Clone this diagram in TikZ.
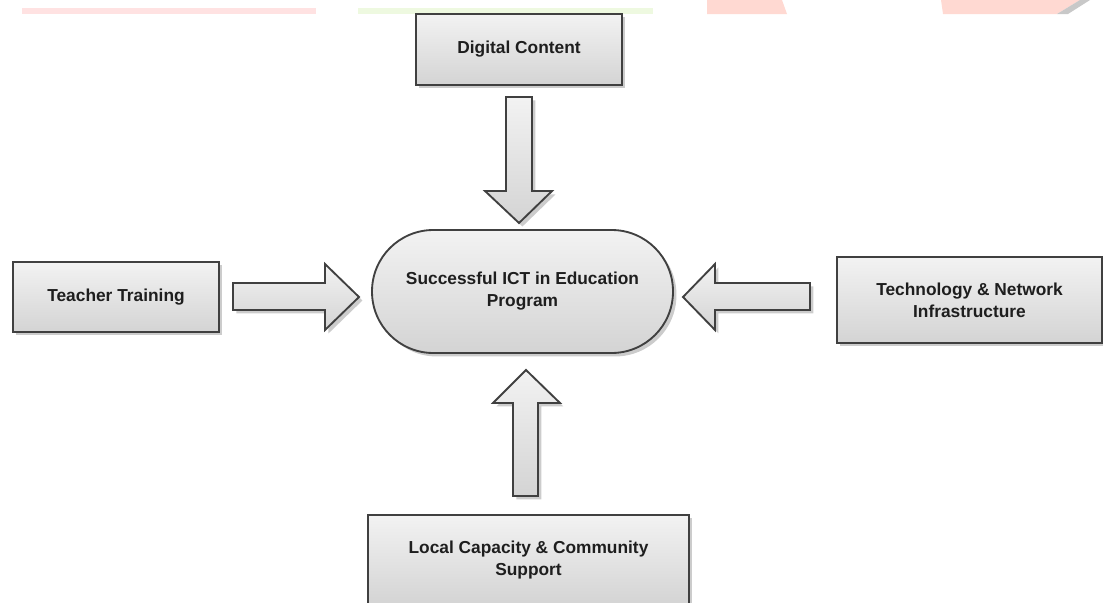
\documentclass[tikz,border=0pt]{standalone}
\usepackage{fontspec}
\setmainfont{Liberation Sans}
\usetikzlibrary{shadows}
\definecolor{wmred}{HTML}{FFE2E2}
\definecolor{wmgreen}{HTML}{EEF9E0}
\definecolor{wmsalmon}{HTML}{FFD9D2}
\definecolor{wmgray}{HTML}{C8C8C8}
\definecolor{edge}{HTML}{404040}
\definecolor{ink}{HTML}{1E1E1E}
\tikzset{
  shade box/.style={draw=edge, line width=1.4pt, top color=white!95!black, bottom color=black!17,
    drop shadow={shadow xshift=2.6pt, shadow yshift=-2.6pt, fill=black, opacity=0.2}},
  box/.style={shade box, rectangle, inner sep=0pt, align=center, text=ink,
    font=\bfseries\fontsize{13}{16.5}\selectfont},
  blockarrow/.style={shade box, line join=miter},
}
\begin{document}
\begin{tikzpicture}[x=0.75pt,y=-0.75pt]
\useasboundingbox (0,0) rectangle (1103,603);
\clip (0,0) rectangle (1103,603);
% faint remnants at the top
\fill[wmred] (22,8) rectangle (316,14);
\fill[wmgreen] (358,8) rectangle (653,14);
\fill[wmsalmon] (707,0) -- (782,0) -- (787,14) -- (707,14) -- cycle;
\fill[wmsalmon] (941,0) -- (1080,0) -- (1057,14) -- (943,14) -- cycle;
\fill[wmgray] (1080,0) -- (1090,0) -- (1068,14) -- (1057,14) -- cycle;
% boxes
\node[box, minimum width=154.5pt, minimum height=53.25pt] (digital) at (519,49.5) {Digital Content};
\node[box, minimum width=154.5pt, minimum height=52.5pt] (teacher) at (116,297) {Teacher Training};
\node[box, minimum width=198.75pt, minimum height=64.5pt] (tech) at (969.5,300) {Technology \& Network\\Infrastructure};
\node[box, minimum width=240.75pt, minimum height=67.5pt] (local) at (528.5,560) {Local Capacity \& Community\\Support};
\node[box, rounded corners=46pt, minimum width=225.75pt, minimum height=92.25pt] (ict) at (522.5,291.5) {Successful ICT in Education\\Program};
% block arrows
\draw[blockarrow] (506,97) -- (532,97) -- (532,191) -- (552,191) -- (519,223) -- (485,191) -- (506,191) -- cycle;
\draw[blockarrow] (513,496) -- (513,403) -- (493,403) -- (526,370) -- (560,403) -- (538,403) -- (538,496) -- cycle;
\draw[blockarrow] (233,283) -- (325,283) -- (325,264) -- (359,297) -- (325,330) -- (325,310) -- (233,310) -- cycle;
\draw[blockarrow] (810,283) -- (715,283) -- (715,264) -- (683,297) -- (715,330) -- (715,310) -- (810,310) -- cycle;
\end{tikzpicture}
\end{document}
